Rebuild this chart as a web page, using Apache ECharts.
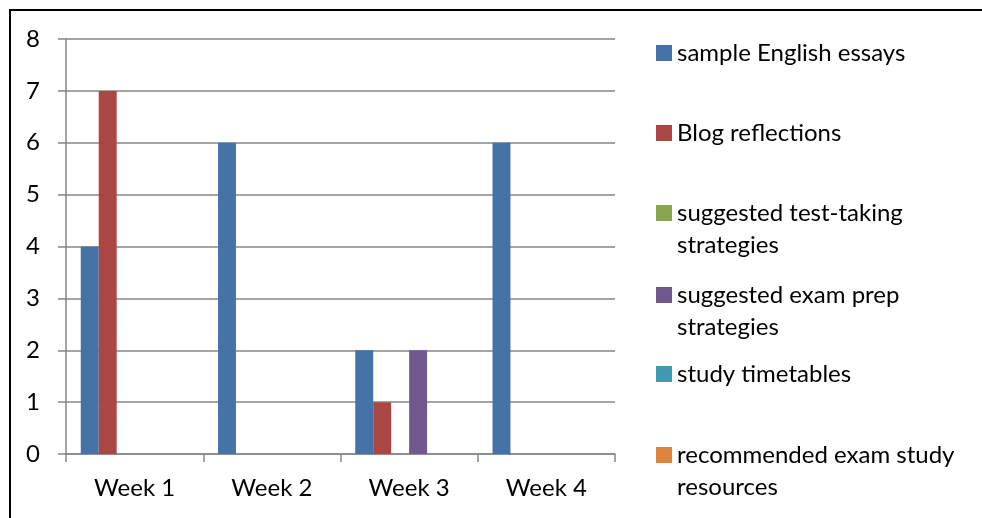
<!DOCTYPE html>
<html>
<head>
<meta charset="utf-8">
<script src="https://cdn.jsdelivr.net/npm/echarts@6/dist/echarts.min.js"></script>
<style>
  html, body { margin: 0; padding: 0; background: #fff; }
  #chart { width: 982px; height: 518px; }
</style>
</head>
<body>
<div id="chart"></div>
<script>
// Weekly counts per resource type
const weeks = ['Week 1', 'Week 2', 'Week 3', 'Week 4'];
const seriesNames = [
  'sample English essays',
  'Blog reflections',
  'suggested test-taking\nstrategies',
  'suggested exam prep\nstrategies',
  'study timetables',
  'recommended exam study\nresources'
];
const sampleEssays = [4, 6, 2, 6];
const blogReflections = [7, 0, 1, 0];
const testTakingStrategies = [0, 0, 0, 0];
const examPrepStrategies = [0, 0, 2, 0];
const studyTimetables = [0, 0, 0, 0];
const studyResources = [0, 0, 0, 0];
const yTicks = [0, 1, 2, 3, 4, 5, 6, 7, 8];

const values = [sampleEssays, blogReflections, testTakingStrategies,
  examPrepStrategies, studyTimetables, studyResources];
const colors = ['#4572A7', '#AA4643', '#89A54E', '#71588F', '#4198AF', '#DB843D'];

const FONT = 'Lato';
const FONT_SIZE = 24;
const axisGray = '#868686';

// one legend block per series so each entry sits on its own row;
// wrapped names get a leading blank line so the swatch lines up with the first line
const legendCenters = [53, 133, 213, 295, 374, 455];
const legends = seriesNames.map((name, i) => {
  const twoLines = name.indexOf('\n') >= 0;
  return {
    data: [name],
    orient: 'vertical',
    left: 656,
    top: twoLines ? legendCenters[i] - 48 : legendCenters[i] - 16,
    padding: 0,
    itemWidth: 16,
    itemHeight: 16,
    itemGap: 0,
    icon: 'rect',
    selectedMode: false,
    formatter: n => (n.indexOf('\n') >= 0 ? '\n' + n : n),
    textStyle: {
      fontFamily: FONT,
      fontSize: FONT_SIZE,
      color: '#000',
      lineHeight: 32
    }
  };
});

const chart = echarts.init(document.getElementById('chart'), null, { renderer: 'canvas' });
chart.setOption({
  animation: false,
  color: colors,
  graphic: [{
    type: 'rect',
    shape: { x: 10, y: 10, width: 1000, height: 600 },
    style: { fill: 'none', stroke: '#000', lineWidth: 2 },
    silent: true
  }],
  legend: legends,
  grid: { left: 66, right: 367, top: 39, bottom: 64, containLabel: false },
  xAxis: {
    type: 'category',
    data: weeks,
    boundaryGap: true,
    axisLine: { lineStyle: { color: axisGray, width: 1.5 } },
    axisTick: { show: true, alignWithLabel: false, length: 8, lineStyle: { color: axisGray, width: 1.5 } },
    axisLabel: { fontFamily: FONT, fontSize: FONT_SIZE, color: '#000', margin: 22 }
  },
  yAxis: {
    type: 'value',
    min: yTicks[0],
    max: yTicks[yTicks.length - 1],
    interval: 1,
    axisLine: { show: true, lineStyle: { color: axisGray, width: 1.5 } },
    axisTick: { show: true, length: 8, lineStyle: { color: axisGray, width: 1.5 } },
    axisLabel: { fontFamily: FONT, fontSize: FONT_SIZE, color: '#000', margin: 26 },
    splitLine: { show: true, lineStyle: { color: axisGray, width: 1.5 } }
  },
  series: seriesNames.map((name, i) => ({
    name: name,
    type: 'bar',
    data: values[i],
    barGap: '0%',
    barCategoryGap: '21.5%',
    itemStyle: { color: colors[i] }
  }))
});
</script>
</body>
</html>
